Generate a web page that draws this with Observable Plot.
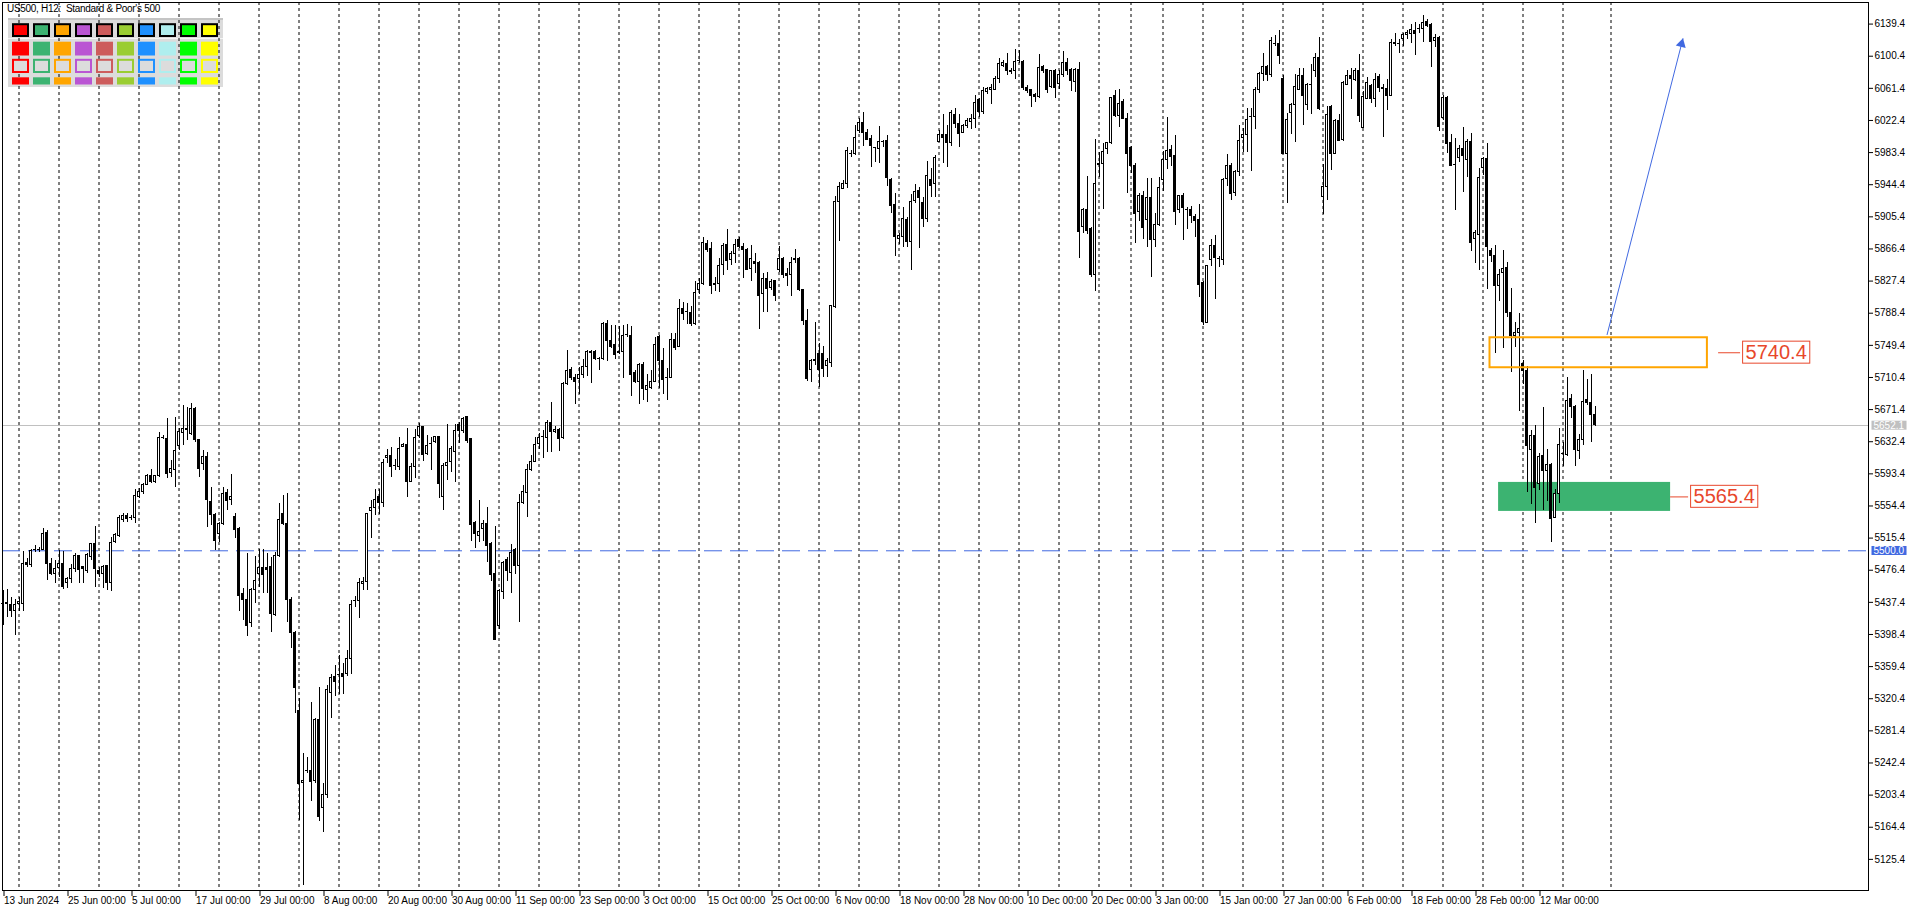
<!DOCTYPE html>
<html><head><meta charset="utf-8">
<script src="https://cdn.jsdelivr.net/npm/d3@7"></script>
<script src="https://cdn.jsdelivr.net/npm/@observablehq/plot@0.6"></script>
<style>
html,body{margin:0;padding:0;background:#fff;}
#wrap{position:relative;width:1916px;height:911px;overflow:hidden;}
#panelBg{position:absolute;left:8px;top:18px;width:215px;height:69px;background:#dcdcdc;border-top:2px solid #c4c4c4;box-sizing:border-box;}
#panelSep{position:absolute;left:8px;top:38px;width:215px;height:1px;background:#f4f4f4;}
#chart{position:absolute;left:0;top:0;}
#palette{position:absolute;left:8px;top:18px;}
#title{position:absolute;left:7px;top:3px;font-family:"Liberation Sans",Arial,sans-serif;font-size:10px;letter-spacing:-0.3px;color:#000;white-space:pre;}
</style></head>
<body><div id="wrap"><div id="panelBg"></div><div id="panelSep"></div><div id="chart"></div><div id="palette"></div><div id="title">US500, H12:  Standard &amp; Poor's 500</div></div>
<script>
// ---------------- data ----------------
const opens = [
5435.7,5435.7,5433.6,5426.8,5435.7,5435.7,5485.4,5483.0,5500.4,5501.2,
5501.2,5521.8,5483.4,5472.1,5479.4,5484.2,5461.1,5466.0,5478.1,5493.1,
5480.2,5475.3,5492.3,5507.7,5475.7,5472.1,5481.0,5460.7,5510.5,5517.8,
5537.6,5542.5,5539.6,5539.6,5565.1,5570.8,5580.1,5590.6,5583.3,5590.6,
5636.7,5635.9,5594.7,5598.3,5627.0,5643.2,5647.3,5642.0,5672.3,5633.9,
5604.8,5613.7,5559.0,5543.7,5520.6,5532.8,5570.0,5561.1,5540.8,5526.7,
5447.8,5440.5,5412.6,5451.8,5471.3,5479.4,5479.0,5480.2,5421.5,5493.1,
5544.1,5532.0,5440.5,5400.0,5305.0,5218.0,5232.1,5232.2,5220.4,5294.0,
5188.0,5203.0,5327.7,5346.5,5349.2,5350.1,5350.1,5369.0,5438.6,5439.0,
5460.1,5462.4,5547.7,5552.2,5564.8,5557.6,5612.8,5615.1,5602.5,5601.6,
5626.3,5628.6,5583.6,5601.6,5639.8,5649.7,5617.3,5629.4,5632.1,5638.4,
5564.8,5602.5,5608.3,5620.5,5653.3,5645.2,5662.2,5635.3,5534.2,5518.5,
5526.2,5532.0,5508.2,5471.4,5408.5,5449.8,5489.3,5473.6,5500.6,5481.3,
5557.6,5570.2,5598.0,5608.3,5629.5,5638.4,5637.5,5654.6,5644.3,5646.5,
5636.6,5702.7,5719.3,5710.3,5708.0,5713.0,5722.9,5741.7,5741.7,5732.7,
5732.7,5775.9,5754.3,5749.8,5740.8,5740.8,5761.9,5761.0,5716.1,5704.9,
5725.1,5695.0,5698.2,5704.9,5759.4,5730.3,5710.1,5710.0,5756.2,5747.3,
5793.8,5789.8,5788.5,5774.8,5816.9,5824.1,5872.7,5866.6,5824.1,5824.1,
5847.2,5871.5,5852.5,5860.6,5877.5,5868.6,5865.4,5841.9,5850.4,5849.6,
5812.0,5830.2,5819.3,5827.4,5840.3,5853.7,5836.3,5834.3,5853.7,5854.5,
5816.9,5778.8,5719.0,5729.9,5739.2,5739.2,5724.2,5727.9,5795.8,5923.3,
5939.5,5944.7,5981.1,5981.1,6009.5,6019.6,6007.0,5999.3,5988.8,5988.0,
5996.1,5996.9,5950.4,5919.2,5878.8,5880.8,5901.0,5874.7,5924.1,5936.2,
5922.5,5902.2,5949.6,5944.7,5996.1,6005.0,6004.2,5995.3,6028.5,6018.3,
6007.4,6015.1,6020.4,6024.4,6046.7,6032.5,6056.8,6059.6,6059.6,6073.0,
6089.1,6091.2,6081.9,6081.9,6094.0,6093.2,6062.0,6058.8,6053.9,6050.7,
6087.9,6083.1,6063.6,6081.9,6066.1,6077.0,6092.4,6083.1,6068.9,6083.9,
5892.9,5913.9,5890.9,5834.2,5968.9,5969.0,5988.0,5994.9,6051.5,6027.6,
6045.4,6024.4,5989.2,5966.6,5911.1,5931.3,5901.8,5928.5,5876.7,5894.9,
5950.4,5974.6,5986.8,5978.7,5913.1,5931.3,5914.0,5913.1,5905.0,5901.0,
5824.9,5776.4,5853.3,5869.4,5854.5,5852.5,5951.6,5966.6,5934.2,5959.7,
6001.0,6005.0,6026.4,6026.4,6058.8,6079.0,6087.9,6077.0,6115.5,6115.4,
6073.0,5981.9,6031.3,6041.4,6059.6,6075.8,6040.7,6064.9,6082.5,6098.4,
5929.9,5941.2,6038.6,5982.1,6021.9,5998.9,6065.8,6076.2,6072.0,6082.5,
6013.5,6049.0,6064.5,6049.0,6075.0,6062.4,6060.7,6052.4,6115.9,6115.1,
6120.9,6126.4,6127.6,6130.6,6133.5,6133.5,6141.8,6137.7,6118.8,6123.0,
6024.8,6049.9,5995.5,5968.8,5977.1,5988.0,5973.8,5996.8,5878.5,5883.9,
5964.6,5975.9,5864.3,5857.6,5821.2,5836.7,5843.4,5789.0,5760.6,5764.8,
5726.3,5718.0,5621.8,5639.4,5580.9,5615.2,5596.8,5603.9,5539.9,5569.2,
5617.7,5616.4,5684.5,5674.9,5620.6,5634.4,5683.3,5679.1,5665.3];
const highs = [
5451.8,5452.8,5443.0,5440.5,5443.8,5499.2,5490.3,5501.2,5506.5,5504.4,
5527.5,5524.7,5490.3,5488.3,5500.4,5499.2,5468.0,5483.4,5496.3,5494.3,
5481.0,5496.3,5508.5,5529.5,5480.2,5482.2,5482.2,5516.6,5520.6,5542.9,
5544.9,5545.7,5542.9,5574.0,5575.2,5581.3,5592.6,5598.3,5591.4,5644.0,
5640.0,5660.2,5609.6,5662.2,5648.1,5676.4,5674.4,5678.4,5674.4,5634.7,
5621.8,5619.7,5577.3,5544.9,5534.8,5576.5,5574.0,5592.6,5545.7,5527.9,
5453.9,5497.2,5453.9,5493.1,5501.2,5501.2,5496.3,5492.3,5498.4,5557.0,
5567.1,5569.2,5442.9,5402.5,5320.4,5253.6,5249.5,5316.3,5296.1,5334.5,
5217.2,5336.5,5350.1,5361.3,5372.6,5363.6,5379.3,5439.9,5444.4,5466.9,
5467.8,5545.5,5561.2,5573.8,5574.7,5610.6,5623.2,5625.0,5610.6,5637.5,
5630.8,5648.8,5606.1,5647.4,5654.2,5651.0,5639.8,5637.5,5638.4,5639.0,
5606.1,5653.3,5626.3,5653.3,5655.5,5662.2,5663.6,5636.0,5536.0,5561.2,
5536.5,5553.1,5509.5,5528.9,5453.4,5487.1,5491.6,5507.3,5502.8,5567.9,
5579.2,5605.2,5615.1,5637.5,5642.0,5646.5,5657.7,5680.2,5651.0,5648.8,
5704.9,5743.1,5722.9,5713.9,5722.0,5732.7,5743.1,5743.1,5743.1,5734.1,
5777.7,5779.9,5773.2,5773.2,5772.3,5773.2,5774.5,5772.3,5719.3,5727.4,
5728.3,5713.9,5718.4,5758.8,5761.4,5745.3,5721.0,5763.5,5764.3,5804.7,
5801.9,5799.9,5796.6,5827.4,5830.2,5880.8,5876.7,5874.7,5831.4,5854.5,
5872.7,5889.7,5863.8,5877.5,5880.8,5872.7,5866.6,5870.7,5860.6,5851.3,
5836.3,5837.5,5829.0,5827.9,5869.5,5855.7,5842.3,5856.5,5865.4,5856.5,
5817.5,5792.6,5731.9,5777.6,5751.3,5748.1,5733.1,5797.8,5930.1,5947.5,
5949.6,5989.2,5986.0,6016.3,6025.2,6031.7,6011.1,6004.2,5990.0,6015.1,
5998.1,6004.2,5951.6,5933.4,5884.8,5917.2,5905.1,5932.6,5944.7,5941.5,
5929.3,5972.6,5963.7,5979.9,6010.3,6029.7,6016.3,6034.5,6036.6,6029.7,
6017.5,6024.4,6029.7,6052.7,6048.7,6062.0,6062.0,6066.1,6075.8,6097.2,
6095.2,6104.1,6085.1,6108.2,6107.3,6095.2,6064.9,6059.5,6055.6,6102.5,
6089.1,6083.9,6083.1,6083.9,6083.1,6106.5,6097.2,6085.1,6085.1,6092.4,
5915.2,5954.4,5892.9,5998.9,5983.9,5994.9,5996.1,6050.7,6058.8,6059.6,
6047.5,6030.5,5990.8,5970.6,5934.2,5936.6,5951.6,5951.6,5909.9,5952.8,
5985.2,6025.6,5992.0,6004.2,5931.3,5934.2,5917.2,5918.0,5908.3,5920.4,
5827.4,5846.4,5877.5,5882.8,5857.3,5951.6,5981.1,5969.8,5961.7,6016.3,
6012.3,6036.5,6036.5,6062.0,6081.0,6104.1,6089.1,6123.5,6125.6,6131.6,
6077.0,6030.5,6043.4,6078.2,6085.1,6085.1,6067.8,6090.8,6103.4,6123.4,
5968.8,6039.9,6040.7,6023.1,6030.2,6069.1,6082.5,6085.8,6085.8,6102.5,
6057.4,6075.0,6065.8,6079.1,6078.3,6066.6,6072.0,6120.1,6127.6,6120.1,
6128.5,6131.8,6138.9,6141.0,6138.9,6150.2,6145.2,6140.2,6126.4,6124.3,
6052.4,6051.1,6005.2,6001.0,5991.4,6013.5,5998.9,6006.4,5889.4,5964.6,
5978.0,5993.9,5867.2,5870.1,5840.9,5864.3,5850.5,5818.3,5777.3,5787.8,
5731.4,5723.8,5645.7,5651.9,5617.7,5673.7,5622.7,5606.0,5574.6,5648.6,
5631.0,5710.5,5689.6,5676.2,5641.5,5718.8,5708.4,5714.6,5674.9];
const lows = [
5409.4,5419.5,5419.5,5397.2,5426.8,5426.8,5480.2,5480.2,5498.4,5498.4,
5500.4,5464.0,5470.0,5460.0,5468.0,5452.7,5453.9,5460.0,5474.1,5460.0,
5460.0,5472.9,5488.3,5455.1,5468.0,5453.9,5451.8,5450.6,5508.5,5516.6,
5534.8,5534.8,5536.8,5532.8,5563.1,5568.4,5579.3,5581.3,5582.1,5589.4,
5634.7,5587.4,5588.6,5576.5,5621.8,5627.8,5633.9,5640.0,5631.9,5588.6,
5597.5,5528.7,5530.7,5500.4,5510.5,5530.7,5548.9,5555.0,5514.6,5426.8,
5415.4,5396.4,5407.3,5435.7,5455.9,5447.8,5447.8,5401.3,5420.3,5492.3,
5530.7,5413.4,5381.0,5303.0,5172.7,5093.8,5230.1,5196.1,5217.2,5171.9,
5158.5,5199.0,5296.2,5323.2,5325.4,5325.4,5347.9,5350.1,5431.0,5418.4,
5451.2,5451.2,5515.4,5543.2,5544.1,5553.1,5606.1,5589.0,5597.1,5597.1,
5625.0,5564.8,5582.8,5587.2,5636.6,5608.3,5615.1,5597.1,5630.8,5563.4,
5548.6,5585.9,5594.9,5582.8,5630.8,5642.0,5630.0,5511.8,5502.8,5509.5,
5511.8,5486.2,5463.3,5390.5,5404.9,5440.8,5462.4,5448.0,5471.4,5413.0,
5555.8,5541.0,5596.2,5607.0,5623.2,5611.5,5619.6,5619.6,5642.0,5620.5,
5635.3,5700.4,5707.1,5678.0,5689.2,5709.4,5711.6,5703.6,5731.0,5718.4,
5731.0,5729.6,5745.3,5732.7,5738.6,5709.4,5758.8,5686.9,5702.7,5678.0,
5682.5,5680.2,5695.9,5704.0,5696.7,5689.8,5682.5,5708.8,5743.2,5746.5,
5779.6,5774.8,5772.4,5773.6,5811.2,5822.1,5862.6,5811.2,5815.2,5814.0,
5834.3,5840.3,5846.4,5849.2,5866.6,5830.2,5840.3,5827.4,5836.3,5768.3,
5789.8,5789.8,5816.0,5803.1,5838.3,5830.2,5820.9,5808.8,5848.4,5815.2,
5773.6,5706.0,5704.8,5725.0,5698.7,5710.0,5710.0,5722.2,5793.8,5875.9,
5938.2,5939.5,5977.1,5979.9,6006.2,5990.8,5998.1,5965.8,5971.8,5970.6,
5989.2,5942.3,5909.9,5857.3,5871.9,5868.6,5867.8,5840.3,5922.1,5866.6,
5892.1,5899.0,5928.5,5929.3,5995.5,5970.6,5965.8,5990.8,6012.3,5990.0,
6006.2,6012.3,6011.1,6012.3,6026.4,6029.7,6053.9,6041.8,6058.8,6067.7,
6086.3,6077.0,6077.8,6072.1,6091.2,6058.8,6054.7,6038.6,6044.6,6049.5,
6079.8,6055.6,6060.8,6049.5,6060.0,6075.0,6077.0,6058.0,6056.8,5854.5,
5885.6,5884.0,5832.2,5815.2,5953.6,5914.3,5981.1,5993.2,6025.6,6014.3,
6023.2,5934.2,5958.4,5873.5,5900.2,5877.5,5867.8,5831.4,5867.8,5893.7,
5936.6,5962.5,5966.6,5894.9,5909.9,5876.7,5889.7,5897.8,5880.8,5807.9,
5773.6,5775.6,5845.2,5804.7,5843.6,5846.4,5942.3,5925.3,5930.1,5954.4,
5983.9,5983.9,5960.9,6011.1,6054.7,6070.1,6070.1,6075.0,6112.2,6090.4,
5981.1,5921.2,6005.4,5996.1,6059.0,6016.3,6034.4,6030.2,6074.1,6034.4,
5907.8,5925.7,5962.1,5981.3,5996.8,5996.8,6064.9,6048.2,6069.1,6019.8,
6013.0,6048.2,6042.8,6038.6,6056.6,6002.2,6034.4,6051.1,6112.6,6103.4,
6111.7,6120.1,6115.9,6101.3,6128.5,6116.8,6134.7,6086.7,6110.9,6009.3,
6021.9,5982.1,5967.0,5913.2,5971.7,5935.3,5952.9,5863.0,5849.2,5840.0,
5955.0,5817.1,5850.5,5738.9,5802.4,5746.0,5783.6,5716.7,5747.2,5669.5,
5702.1,5570.4,5556.6,5532.8,5573.4,5549.5,5560.0,5509.8,5539.1,5557.9,
5601.8,5614.3,5660.3,5601.8,5611.0,5627.7,5676.2,5631.9,5651.1];
const closes = [
5435.2,5436.9,5426.8,5434.4,5437.3,5484.2,5483.0,5499.2,5501.2,5501.0,
5520.6,5484.2,5472.1,5477.3,5484.2,5455.9,5466.0,5478.1,5493.5,5476.9,
5477.3,5494.3,5507.7,5478.1,5472.1,5480.2,5460.7,5509.3,5518.6,5540.0,
5542.5,5538.0,5539.8,5566.8,5570.8,5579.3,5590.6,5583.3,5590.6,5637.1,
5636.5,5593.4,5599.5,5621.0,5644.0,5647.3,5646.5,5672.3,5633.9,5599.5,
5613.7,5561.1,5543.7,5511.3,5532.8,5569.2,5560.3,5565.9,5525.5,5445.0,
5439.7,5408.1,5452.6,5463.2,5479.4,5470.0,5476.1,5423.5,5493.1,5536.8,
5532.0,5440.5,5400.0,5333.7,5217.2,5220.4,5232.5,5219.2,5294.0,5176.7,
5203.0,5330.5,5345.6,5340.2,5349.4,5346.5,5369.0,5434.1,5438.8,5461.0,
5462.4,5544.1,5552.2,5561.2,5557.6,5607.0,5615.1,5601.6,5602.4,5623.2,
5628.6,5583.6,5601.6,5637.5,5649.7,5616.0,5627.7,5629.6,5638.4,5581.4,
5602.5,5607.0,5623.2,5645.2,5645.6,5660.0,5633.0,5530.7,5519.9,5522.6,
5532.9,5506.0,5470.5,5391.4,5451.2,5484.8,5474.9,5497.4,5481.3,5557.6,
5571.1,5598.0,5608.3,5628.6,5637.5,5638.2,5654.6,5644.3,5646.5,5635.3,
5702.7,5718.4,5710.3,5704.9,5713.0,5722.9,5741.7,5739.9,5732.7,5732.5,
5775.9,5754.3,5747.6,5737.2,5740.6,5761.0,5762.1,5713.0,5704.9,5725.1,
5695.9,5699.5,5704.9,5749.8,5730.3,5707.6,5710.0,5755.4,5746.5,5793.8,
5786.9,5789.6,5774.8,5812.8,5824.1,5873.9,5864.6,5821.3,5822.1,5845.6,
5870.3,5851.3,5860.6,5871.5,5868.6,5865.4,5841.1,5854.5,5848.4,5809.2,
5830.2,5818.1,5826.2,5809.2,5853.7,5834.3,5833.5,5849.2,5852.5,5816.0,
5778.8,5708.8,5729.9,5731.9,5719.0,5720.2,5729.9,5796.6,5923.3,5941.5,
5944.7,5984.8,5981.2,6001.4,6019.6,6007.4,5998.9,5990.8,5988.6,5996.1,
5996.0,5952.8,5918.4,5880.8,5881.6,5903.0,5874.7,5923.3,5935.4,5928.1,
5902.2,5954.4,5942.7,5977.1,6005.0,6001.4,5995.3,6031.7,6018.3,6006.2,
6015.1,6021.6,6024.4,6043.8,6032.5,6057.6,6060.0,6062.0,6073.0,6091.2,
6092.0,6082.3,6081.8,6093.2,6094.1,6062.0,6058.0,6051.5,6050.7,6086.3,
6082.3,6058.8,6081.9,6062.0,6077.0,6092.4,6082.3,6070.1,6083.9,5886.8,
5913.9,5888.1,5834.2,5944.7,5969.0,5983.9,5994.9,6049.9,6027.6,6042.6,
6024.4,5981.9,5966.6,5909.1,5931.3,5892.1,5928.5,5876.7,5894.9,5940.6,
5974.6,5984.8,5977.9,5911.1,5930.1,5916.4,5913.9,5905.9,5900.2,5822.1,
5777.6,5845.2,5869.4,5855.7,5854.4,5950.4,5966.6,5933.4,5959.7,5996.9,
6005.0,6022.4,6026.5,6058.8,6079.0,6087.9,6077.0,6118.3,6115.4,6100.1,
5981.9,6022.4,6040.6,6063.6,6075.8,6051.5,6064.9,6065.0,6098.4,6036.5,
5941.2,6029.0,5982.1,6021.9,5998.0,6067.9,6076.2,6072.9,6082.5,6028.1,
6051.1,6067.9,6049.0,6072.0,6062.4,6060.7,6052.4,6115.9,6115.8,6115.0,
6126.4,6128.5,6131.8,6127.6,6133.4,6140.2,6136.8,6118.0,6122.2,6014.8,
6049.9,5993.4,5967.5,5968.6,5988.0,5978.8,5996.8,5873.5,5885.2,5952.1,
5975.9,5869.3,5857.6,5821.2,5834.6,5842.1,5789.0,5760.6,5764.8,5769.8,
5718.0,5626.9,5639.4,5576.7,5614.3,5596.8,5603.9,5538.2,5569.2,5629.0,
5617.6,5682.0,5674.9,5622.7,5634.4,5681.2,5679.1,5665.3,5652.1];

// time axis: H12 bar index of each labelled bar, and its label
const xLabelIdx = [0,16,32,48,64,80,96,112,128,144,160,176,192,208,224,240,256,272,288,304,320,336,352,368,384];
const xLabels = ["13 Jun 2024","25 Jun 00:00","5 Jul 00:00","17 Jul 00:00","29 Jul 00:00","8 Aug 00:00",
  "20 Aug 00:00","30 Aug 00:00","11 Sep 00:00","23 Sep 00:00","3 Oct 00:00","15 Oct 00:00","25 Oct 00:00",
  "6 Nov 00:00","18 Nov 00:00","28 Nov 00:00","10 Dec 00:00","20 Dec 00:00","3 Jan 00:00","15 Jan 00:00",
  "27 Jan 00:00","6 Feb 00:00","18 Feb 00:00","28 Feb 00:00","12 Mar 00:00"];
// weekly period separators (bar index of each Monday 00:00 bar)
const weekStarts = [4,14,24,34,44,54,64,74,84,94,104,114,124,134,144,154,164,174,184,194,204,214,224,234,
  244,254,264,274,282,290,300,310,320,330,340,350,360,370,380,390,402];
// price scale ticks
const yTicks = [6139.4,6100.4,6061.4,6022.4,5983.4,5944.4,5905.4,5866.4,5827.4,5788.4,5749.4,5710.4,5671.4,
  5632.4,5593.4,5554.4,5515.4,5476.4,5437.4,5398.4,5359.4,5320.4,5281.4,5242.4,5203.4,5164.4,5125.4];
const currentPrice = 5652.1;
const levelLine = 5500.0;
// zones (bar index from/to, price top/bottom)
const zoneNames = ["resistance","support"];
const zoneFrom = [371.75, 373.9];
const zoneTo = [426.1, 416.9];
const zoneTop = [5758.6, 5583.0];
const zoneBottom = [5722.2, 5547.8];
// level labels
const levelPrices = [5740.4, 5565.4];
const levelLeaderFrom = [428.9, 416.9];
const levelLeaderTo = [434.4, 421.4];
// projected arrow (bar index, price)
const arrowFrom = [401, 5762];
const arrowTo = [420, 6122];
// colour palette widget
const paletteColors = ["#FF0000","#3CB371","#FFA500","#BA55D3","#CD5C5C","#9ACD32","#1E90FF","#AFEEEE","#00FF00","#FFFF00"];

// ---------------- chart ----------------
const FONT = "'Liberation Sans', Arial, sans-serif";
const LABEL_RED = "#e8472b";
const BLUE = "#4169E1";
const candles = opens.map((o, i) => ({i, o, h: highs[i], l: lows[i], c: closes[i]}));
const bull = candles.filter(d => d.c >= d.o);
const bear = candles.filter(d => d.c < d.o);
const zones = zoneNames.map((n, k) => ({n, x1: zoneFrom[k], x2: zoneTo[k], y1: zoneTop[k], y2: zoneBottom[k]}));
const levels = levelPrices.map((p, k) => ({p, from: levelLeaderFrom[k], to: levelLeaderTo[k]}));

const chart = Plot.plot({
  width: 1916, height: 911,
  marginTop: 2, marginRight: 48, marginBottom: 21, marginLeft: 2,
  x: {type: "linear", domain: [-0.125, 466.375], axis: null},
  y: {type: "linear", domain: [5087.6, 6165.6], axis: null},
  style: {background: "transparent", fontFamily: FONT, fontSize: "10px", color: "#000", overflow: "visible"},
  marks: [
    Plot.ruleX(weekStarts, {stroke: "#000", strokeWidth: 1, strokeDasharray: "3,3"}),
    Plot.rect(zones.filter(d => d.n === "support"), {x1: "x1", x2: "x2", y1: "y1", y2: "y2", fill: "#3CB371"}),
    Plot.ruleY([currentPrice], {stroke: "#c0c0c0"}),
    Plot.ruleY([levelLine], {stroke: BLUE, strokeDasharray: "18,8"}),
    Plot.ruleX(candles, {x: "i", y1: "l", y2: "h", stroke: "#000", shapeRendering: "crispEdges"}),
    Plot.rect(bull, {x1: d => d.i - 0.25, x2: d => d.i + 0.25, y1: "o", y2: "c", fill: "#fff", stroke: "#000", shapeRendering: "crispEdges"}),
    Plot.rect(bear, {x1: d => d.i - 0.25, x2: d => d.i + 0.25, y1: "o", y2: "c", fill: "#000", stroke: "#000", shapeRendering: "crispEdges"}),
    Plot.rect(zones.filter(d => d.n === "resistance"), {x1: "x1", x2: "x2", y1: "y1", y2: "y2", fill: "none", stroke: "#FFA500", strokeWidth: 2}),
    Plot.link([{x1: arrowFrom[0], y1: arrowFrom[1], x2: arrowTo[0], y2: arrowTo[1]}], {x1: "x1", y1: "y1", x2: "x2", y2: "y2", stroke: BLUE}),
    Plot.dot([{x: arrowTo[0], y: arrowTo[1]}], {x: "x", y: "y", symbol: "triangle", r: 3.8, fill: BLUE, rotate: 15, dx: -1.5, dy: 5.5}),
    Plot.ruleY(levels, {y: "p", x1: "from", x2: "to", stroke: LABEL_RED}),
    Plot.text(levels, {x: "to", y: "p", text: d => d.p.toFixed(1), textAnchor: "start", dx: 5, fill: LABEL_RED, fontSize: 20}),
    Plot.frame({stroke: "#000"}),
    Plot.axisY(yTicks, {anchor: "right", tickSize: 4, tickPadding: 2, tickFormat: d => d.toFixed(1), fontSize: 10}),
    Plot.axisX(xLabelIdx, {anchor: "bottom", tickSize: 6, tickPadding: 0, tickFormat: d => xLabels[xLabelIdx.indexOf(d)], textAnchor: "start", dx: 1, fontSize: 10}),
    Plot.text([currentPrice], {y: d => d, frameAnchor: "right", text: d => d.toFixed(1), textAnchor: "start", dx: 5, fill: "#fff", fontSize: 10}),
    Plot.text([levelLine], {y: d => d, frameAnchor: "right", text: d => d.toFixed(1), textAnchor: "start", dx: 5, fill: "#fff", fontSize: 10})
  ]
});
document.getElementById("chart").appendChild(chart);

// boxes behind tag texts
function boxText(svg, str, fill, stroke, px, py) {
  svg.querySelectorAll("text").forEach(t => {
    if (t.textContent !== str || t.closest("[aria-label*='axis']")) return;
    const b = t.getBBox();
    const r = document.createElementNS("http://www.w3.org/2000/svg", "rect");
    r.setAttribute("x", b.x - px); r.setAttribute("y", b.y - py);
    r.setAttribute("width", b.width + 2 * px); r.setAttribute("height", b.height + 2 * py);
    const tr = t.getAttribute("transform"); if (tr) r.setAttribute("transform", tr);
    r.setAttribute("fill", fill);
    if (stroke) { r.setAttribute("stroke", stroke); r.setAttribute("stroke-width", 1); }
    t.parentNode.insertBefore(r, t);
  });
}
boxText(chart, currentPrice.toFixed(1), "#c0c0c0", null, 2, -1);
boxText(chart, levelLine.toFixed(1), BLUE, null, 2, -1);
levelPrices.forEach(p => boxText(chart, p.toFixed(1), "#fff", LABEL_RED, 3, 0));

// ---------------- palette widget ----------------
const palRows = ["frame", "fill", "outline", "bar"];
const palData = palRows.flatMap(r => paletteColors.map((c, k) => ({k, r, c})));
const pal = Plot.plot({
  width: 215, height: 76, margin: 0,
  x: {type: "band", domain: d3.range(paletteColors.length), range: [2.3, 212.3], padding: 0, axis: null},
  y: {type: "band", domain: palRows, range: [1.5, 75.5], padding: 0, axis: null},
  style: {background: "transparent"},
  marks: [
    Plot.cell(palData.filter(d => d.r === "frame"), {x: "k", y: "r", fill: "c", stroke: "#000", strokeWidth: 2, insetLeft: 3, insetRight: 3, insetTop: 3.2, insetBottom: 3}),
    Plot.cell(palData.filter(d => d.r === "fill"), {x: "k", y: "r", fill: "c", insetLeft: 2, insetRight: 2, insetTop: 2.7, insetBottom: 1.5}),
    Plot.cell(palData.filter(d => d.r === "outline"), {x: "k", y: "r", fill: "#dcdcdc", stroke: "c", strokeWidth: 2, insetLeft: 3, insetRight: 3, insetTop: 2.8, insetBottom: 3}),
    Plot.cell(palData.filter(d => d.r === "bar"), {x: "k", y: "r", fill: "c", insetLeft: 2, insetRight: 2, insetTop: 2.3, insetBottom: 8.5})
  ]
});
document.getElementById("palette").appendChild(pal);
</script></body></html>
